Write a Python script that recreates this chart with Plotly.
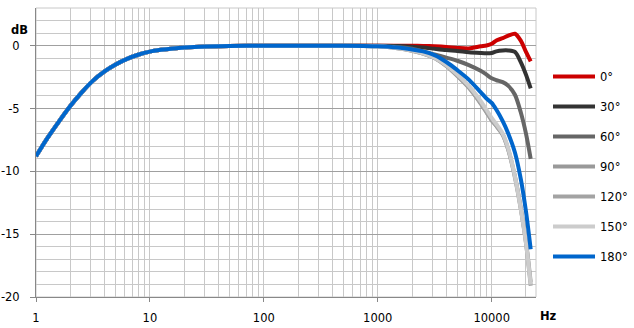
import plotly.graph_objects as go

# Frequencies (Hz)
freq_low = [1, 1.25, 1.6, 2, 2.5, 3.15, 4, 5, 6.3, 8, 10, 12.5, 16, 20, 31.5, 50, 100, 200, 500]
freq_high = [1000, 1500, 2000, 2500, 3150, 4000, 5000, 6300, 8000, 9000, 10000,
             11000, 12500, 14000, 16000, 18000, 20000, 22000]

# Common low-frequency response (dB), identical for every angle
db_low = [-8.8, -7.4, -6.0, -4.8, -3.75, -2.8, -2.05, -1.5, -1.05, -0.7, -0.47,
          -0.33, -0.22, -0.15, -0.07, -0.03, 0.0, 0.0, 0.0]

# High-frequency responses per angle (dB)
db_0 = [0.0, 0.0, 0.0, -0.02, -0.05, -0.1, -0.18, -0.22, -0.05, 0.02, 0.15,
        0.42, 0.6, 0.8, 0.95, 0.4, -0.5, -1.25]
db_30 = [0.0, -0.02, -0.08, -0.15, -0.25, -0.35, -0.42, -0.52, -0.58, -0.6, -0.58,
         -0.45, -0.38, -0.38, -0.5, -1.3, -2.3, -3.4]
db_60 = [-0.02, -0.1, -0.25, -0.45, -0.7, -0.95, -1.2, -1.55, -2.0, -2.3, -2.6,
         -2.75, -2.9, -3.2, -3.9, -5.3, -7.0, -9.0]
db_90 = [-0.05, -0.2, -0.4, -0.62, -0.98, -1.62, -2.42, -3.35, -4.6, -5.3, -5.95,
         -6.4, -7.1, -8.3, -10.4, -12.9, -15.6, -18.8]
db_120 = [-0.05, -0.2, -0.4, -0.62, -0.98, -1.6, -2.38, -3.3, -4.55, -5.25, -5.9,
          -6.38, -7.08, -8.3, -10.5, -13.0, -15.7, -19.1]
db_150 = [-0.05, -0.2, -0.38, -0.6, -0.95, -1.55, -2.3, -3.2, -4.4, -5.1, -5.75,
          -6.25, -7.0, -8.2, -10.4, -13.0, -15.7, -19.0]
db_180 = [-0.05, -0.15, -0.3, -0.45, -0.75, -1.3, -1.95, -2.7, -3.7, -4.2, -4.55,
          -5.1, -6.0, -7.0, -8.5, -10.6, -13.2, -16.2]

angles = ["0°", "30°", "60°", "90°", "120°", "150°", "180°"]
series = [db_0, db_30, db_60, db_90, db_120, db_150, db_180]
colors = ["#cc0000", "#333333", "#666666", "#999999", "#a3a3a3", "#cccccc", "#0066cc"]

x_tickvals = [1, 10, 100, 1000, 10000]
x_ticktext = ["1", "10", "100", "1000", "10000"]
y_tickvals = [-20, -15, -10, -5, 0]
y_ticktext = ["-20", "-15", "-10", "-5", "0"]

FONT = "DejaVu Sans"
W, H = 634, 328
ML, MR, MT, MB = 36, 98, 8, 31

fig = go.Figure()
for name, vals, col in zip(angles, series, colors):
    fig.add_trace(go.Scatter(
        x=freq_low + freq_high,
        y=db_low + vals,
        mode="lines",
        name=name,
        legendgroup=name,
        line=dict(color=col, width=4, shape="spline", smoothing=0.8),
    ))

pw = W - ML - MR
ph = H - MT - MB


def px(xp):
    return (xp - ML) / pw


def py(yp):
    return (H - MB - yp) / ph


fig.update_layout(
    width=W, height=H,
    margin=dict(l=ML, r=MR, t=MT, b=MB, autoexpand=False),
    paper_bgcolor="white", plot_bgcolor="white",
    font=dict(family=FONT, size=11.5, color="#000000"),
    showlegend=True,
    legend=dict(
        x=px(548), y=py(62), xanchor="left", yanchor="top",
        font=dict(family=FONT, size=11.5, color="#000000"),
        tracegroupgap=11, itemwidth=42,
        bgcolor="rgba(0,0,0,0)",
    ),
    annotations=[
        dict(text="<b>dB</b>", x=px(19), y=py(30), xref="paper", yref="paper",
             xanchor="center", yanchor="middle",
             showarrow=False, font=dict(family=FONT, size=11.5)),
        dict(text="<b>Hz</b>", x=px(548), y=py(316), xref="paper", yref="paper",
             xanchor="center", yanchor="middle",
             showarrow=False, font=dict(family=FONT, size=11.5)),
    ],
)

fig.update_xaxes(
    type="log", range=[0, 4.389], automargin=False,
    tickmode="array", tickvals=x_tickvals, ticktext=x_ticktext,
    showgrid=True, gridcolor="#c8c8c8", gridwidth=1,
    minor=dict(dtick="D1", showgrid=True, gridcolor="#c8c8c8", gridwidth=1, ticks=""),
    showline=True, linecolor="#888888", linewidth=1, mirror=False,
    ticks="outside", ticklen=4, tickcolor="#888888",
    zeroline=False, ticklabelstandoff=6,
)
fig.update_yaxes(
    range=[-20, 3], automargin=False,
    tickmode="array", tickvals=y_tickvals, ticktext=y_ticktext,
    showgrid=True, gridcolor="#a0a0a0", gridwidth=1,
    minor=dict(dtick=1, tick0=0, showgrid=True, gridcolor="#c8c8c8", gridwidth=1, ticks=""),
    showline=True, linecolor="#888888", linewidth=1,
    ticks="outside", ticklen=5, tickcolor="#888888",
    zeroline=False, ticklabelstandoff=8,
)

# light border on top/right like the reference
fig.add_shape(type="rect", xref="paper", yref="paper", x0=0, y0=0, x1=1, y1=1,
              line=dict(color="#c8c8c8", width=1), layer="below")

fig.write_html("out.html", config={"displayModeBar": False},
               post_script="document.body.style.margin='0';")
